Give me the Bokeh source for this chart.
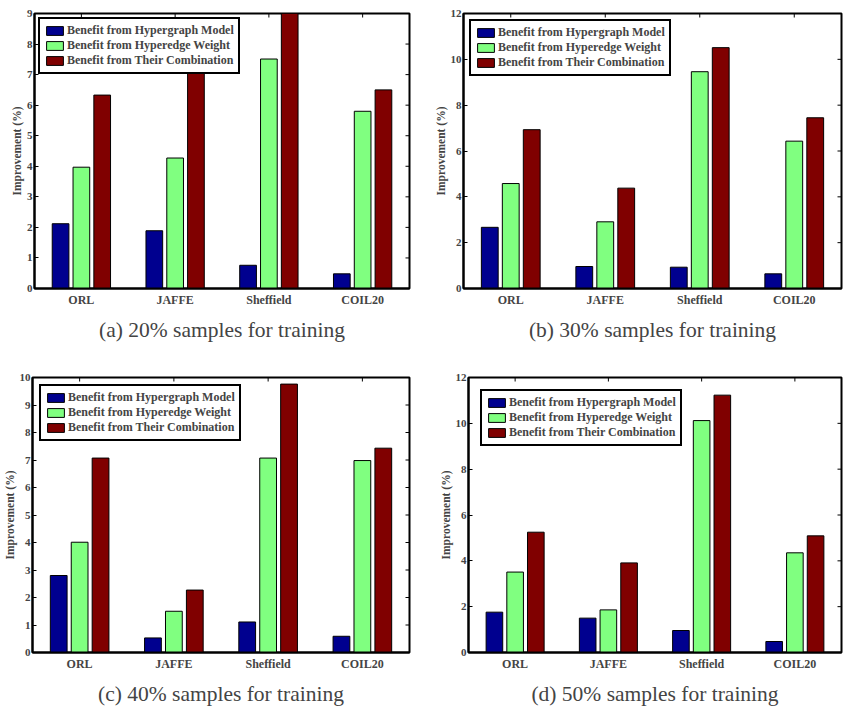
import math
from bokeh.plotting import figure
from bokeh.models import Range1d, FixedTicker, Legend, LegendItem, ColumnDataSource
from bokeh.layouts import row, column
from bokeh.transform import dodge
from bokeh.embed import file_html
from bokeh.resources import INLINE

# ---------------- data ----------------
datasets = ["ORL", "JAFFE", "Sheffield", "COIL20"]
series_names = ["Benefit from Hypergraph Model",
                "Benefit from Hyperedge Weight",
                "Benefit from Their Combination"]

# (a) 20% samples for training
a_model = [2.12, 1.89, 0.76, 0.48]
a_weight = [3.97, 4.27, 7.51, 5.80]
a_comb = [6.33, 7.23, 9.00, 6.50]

# (b) 30% samples for training
b_model = [2.67, 0.96, 0.93, 0.64]
b_weight = [4.58, 2.91, 9.46, 6.43]
b_comb = [6.93, 4.38, 10.51, 7.45]

# (c) 40% samples for training
c_model = [2.80, 0.53, 1.11, 0.59]
c_weight = [4.01, 1.50, 7.07, 6.98]
c_comb = [7.07, 2.27, 9.76, 7.43]

# (d) 50% samples for training
d_model = [1.76, 1.50, 0.96, 0.48]
d_weight = [3.51, 1.86, 10.12, 4.35]
d_comb = [5.25, 3.91, 11.23, 5.09]

captions = ["(a) 20% samples for training", "(b) 30% samples for training",
            "(c) 40% samples for training", "(d) 50% samples for training"]
y_max = [9, 12, 10, 12]
y_step = [1, 2, 1, 2]
y_label = "Improvement (%)"

# ---------------- style ----------------
SERIF = "Liberation Serif"
COLORS = ["#00008F", "#80FF80", "#800000"]
OFFSETS = [-0.222, 0.0, 0.222]
BAR_W = 0.178


def make_panel(model, weight, comb, ymax, ystep, caption, width, height,
               bl, br, bt, bb, leg_margin):
    xs = list(range(1, len(datasets) + 1))
    src = ColumnDataSource(dict(x=xs, model=model, weight=weight, comb=comb))
    x_end = len(datasets) + 0.5
    p = figure(width=width, height=height, output_backend="svg",
               toolbar_location=None, x_range=Range1d(0.5, x_end),
               y_range=Range1d(0, ymax), min_border_left=bl, min_border_right=br,
               min_border_top=bt, min_border_bottom=bb)
    p.xgrid.visible = False
    p.ygrid.visible = False
    p.outline_line_color = "black"
    p.outline_line_width = 2
    p.outline_line_alpha = 1.0
    p.background_fill_color = "white"
    p.border_fill_color = "white"

    renderers = []
    for col, off, colr in zip(["model", "weight", "comb"], OFFSETS, COLORS):
        r = p.vbar(x=dodge("x", off, range=p.x_range), top=col, bottom=0,
                   width=BAR_W, source=src, fill_color=colr,
                   line_color="black", line_width=1)
        renderers.append(r)

    yt = list(range(0, ymax + 1, ystep))

    # inward tick marks on the top and right edges of the box
    p.scatter(x=xs, y=[ymax] * len(xs), marker="dash", size=8, angle=math.pi / 2,
              line_color="black", line_width=1)
    p.scatter(x=[x_end] * len(yt), y=yt, marker="dash", size=8,
              line_color="black", line_width=1)

    # bottom axis
    xa = p.xaxis[0]
    xa.ticker = FixedTicker(ticks=xs)
    xa.major_label_overrides = {x: n for x, n in zip(xs, datasets)}
    xa.major_tick_in = 0
    xa.major_tick_out = 0
    xa.minor_tick_line_color = None
    xa.axis_line_width = 2
    xa.major_label_text_font = SERIF
    xa.major_label_text_font_style = "bold"
    xa.major_label_text_font_size = "12px"
    xa.major_label_standoff = 4
    xa.axis_label = caption
    xa.axis_label_text_font = SERIF
    xa.axis_label_text_font_style = "normal"
    xa.axis_label_text_font_size = "21.5px"
    xa.axis_label_standoff = 8

    # left axis
    ya = p.yaxis[0]
    ya.ticker = FixedTicker(ticks=yt)
    ya.major_tick_in = 4
    ya.major_tick_out = 0
    ya.minor_tick_line_color = None
    ya.axis_line_width = 2
    ya.major_label_text_font = SERIF
    ya.major_label_text_font_style = "bold"
    ya.major_label_text_font_size = "11px"
    ya.major_label_standoff = 2
    ya.axis_label = y_label
    ya.axis_label_text_font = SERIF
    ya.axis_label_text_font_style = "bold"
    ya.axis_label_text_font_size = "11.5px"
    ya.axis_label_standoff = 1

    items = [LegendItem(label=n, renderers=[r]) for n, r in zip(series_names, renderers)]
    leg = Legend(items=items, location="top_left", margin=leg_margin,
                 padding=4, spacing=0, glyph_width=21, glyph_height=11,
                 label_height=11, label_standoff=2,
                 label_text_font=SERIF, label_text_font_style="bold",
                 label_text_font_size="12px",
                 border_line_color="black", border_line_width=2.5,
                 border_line_alpha=1.0,
                 background_fill_color="white", background_fill_alpha=1.0)
    p.add_layout(leg)
    return p


pa = make_panel(a_model, a_weight, a_comb, y_max[0], y_step[0], captions[0],
                420, 360, 34, 11, 13, 72, 4)
pb = make_panel(b_model, b_weight, b_comb, y_max[1], y_step[1], captions[1],
                423, 360, 43, 2, 13, 71, 6)
pc = make_panel(c_model, c_weight, c_comb, y_max[2], y_step[2], captions[2],
                420, 351, 29, 11, 17, 57, 7)
pd = make_panel(d_model, d_weight, d_comb, y_max[3], y_step[3], captions[3],
                423, 351, 48, 2, 17, 59, 12)

layout = column(row(pa, pb), row(pc, pd))
open("out.html", "w").write(file_html(layout, INLINE))
